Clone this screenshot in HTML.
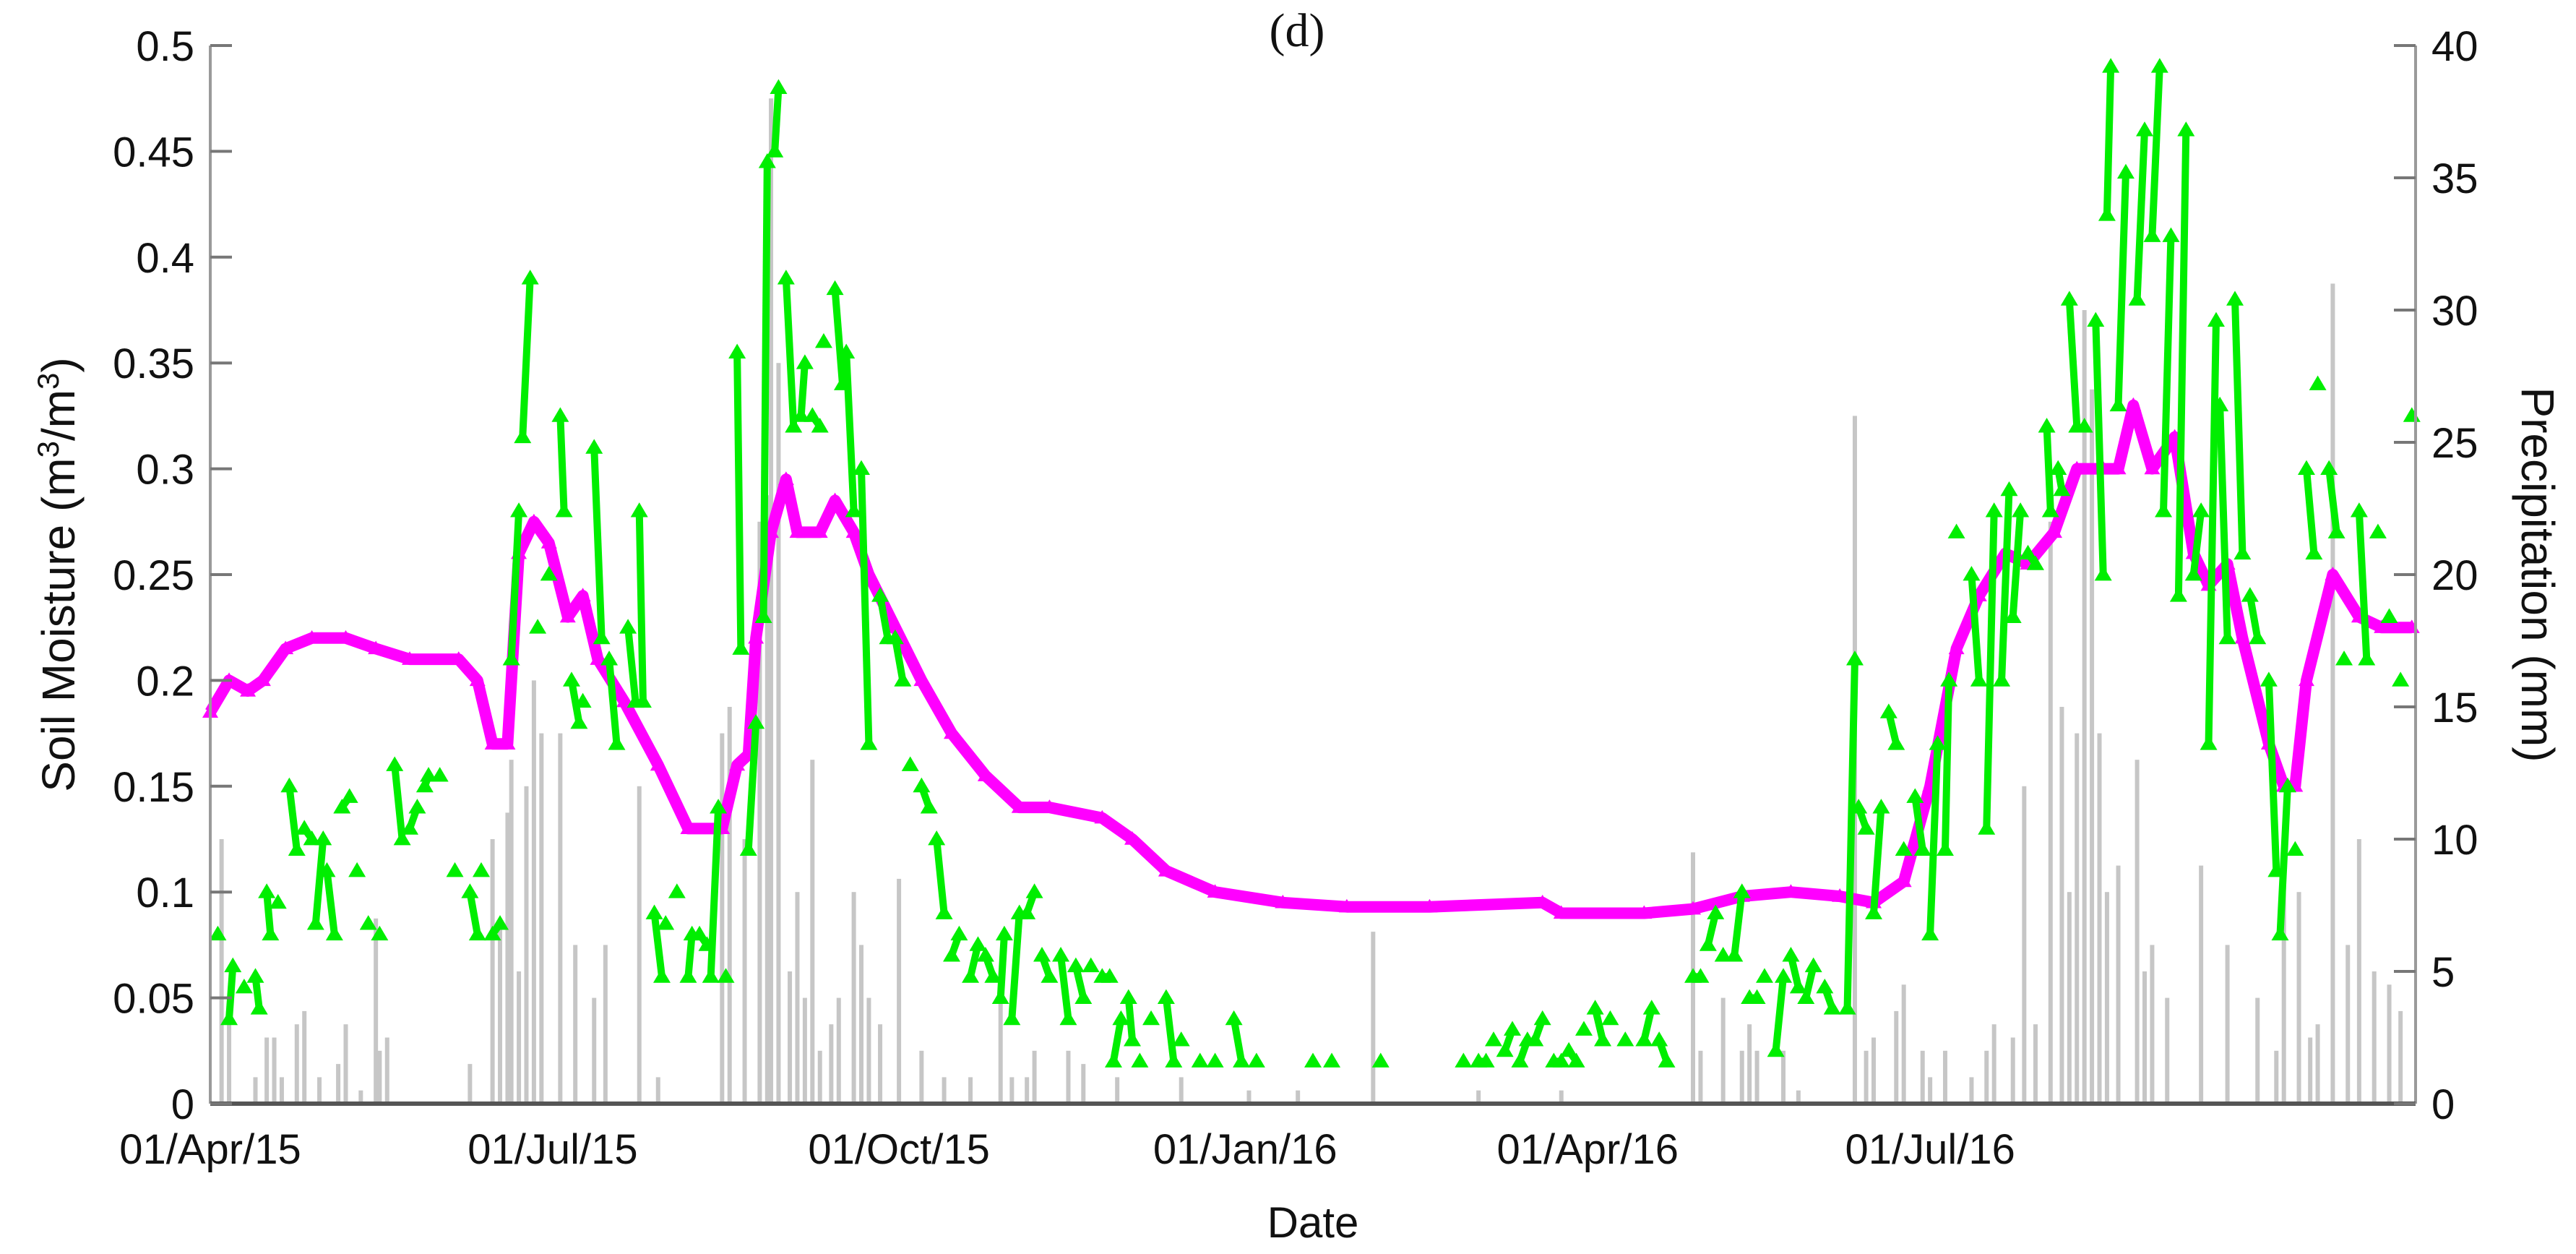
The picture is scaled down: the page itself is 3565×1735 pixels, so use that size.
<!DOCTYPE html>
<html><head><meta charset="utf-8"><style>
html,body{margin:0;padding:0;background:#fff}
svg{display:block}
text{font-family:"Liberation Sans",Arial,sans-serif;fill:#111}
</style></head><body>
<svg id="chart" width="3565" height="1735" viewBox="0 0 3565 1735" xmlns="http://www.w3.org/2000/svg">
<g id="precip"></g>
<g id="mag"></g>
<g id="grn"></g>
<g id="axes"></g>
<text x="1795" y="64" text-anchor="middle" style="font-family:'Liberation Serif',serif;font-size:66px">(d)</text>
<text x="1817" y="1712" text-anchor="middle" font-size="60">Date</text>
<text transform="translate(103,795) rotate(-90)" text-anchor="middle" font-size="64" fill="#333">Soil Moisture (m<tspan dy="-22" font-size="42">3</tspan><tspan dy="22">/m</tspan><tspan dy="-22" font-size="42">3</tspan><tspan dy="22">)</tspan></text>
<text transform="translate(3490,795) rotate(90)" text-anchor="middle" font-size="64">Precipitation (mm)</text>
</svg>
<script>
const magDays=[0,5,10,14,20,27,36,44,53,66,71,75,79,82,86,90,95,99,103,110,119,127,136,140,143,145,149,153,156,162,166,171,175,182,189,197,206,215,223,237,245,254,267,285,302,324,354,359,381,394,407,420,433,442,450,457,464,470,477,483,490,496,503,507,511,516,522,527,531,536,540,547,551,554,557,564,571,577,585];
const magVals=[0.185,0.2,0.195,0.2,0.215,0.22,0.22,0.215,0.21,0.21,0.2,0.17,0.17,0.26,0.275,0.265,0.23,0.24,0.21,0.19,0.16,0.13,0.13,0.16,0.165,0.22,0.27,0.295,0.27,0.27,0.285,0.27,0.25,0.225,0.2,0.175,0.155,0.14,0.14,0.135,0.125,0.11,0.1,0.095,0.093,0.093,0.095,0.09,0.09,0.092,0.098,0.1,0.098,0.095,0.105,0.15,0.215,0.24,0.26,0.255,0.27,0.3,0.3,0.3,0.33,0.3,0.315,0.26,0.245,0.255,0.22,0.17,0.15,0.15,0.2,0.25,0.23,0.225,0.225];
const grnDays=[2,5,6,9,12,13,15,16,18,21,23,25,27,28,30,31,33,35,37,39,42,45,49,51,53,55,57,58,61,65,69,71,72,75,77,80,82,83,85,87,90,93,94,96,98,99,102,104,106,108,111,113,114,115,118,120,121,124,127,128,130,132,133,135,137,140,141,143,145,147,148,150,151,153,155,157,158,160,162,163,166,168,169,171,173,175,178,180,182,184,186,189,191,193,195,197,199,202,204,206,208,210,211,213,215,217,219,221,223,226,228,230,232,234,237,239,240,242,244,245,247,250,254,256,258,263,267,272,274,278,293,298,311,333,337,339,341,344,346,348,350,352,354,357,359,361,363,365,368,370,372,376,381,383,385,387,394,396,398,400,402,405,407,409,411,413,416,418,420,422,424,426,429,431,435,437,438,440,442,444,446,448,450,453,455,457,459,461,462,464,468,470,472,474,476,478,479,481,483,485,488,489,491,492,494,496,498,501,503,504,505,507,509,512,514,516,518,519,521,523,525,527,529,531,533,534,536,538,540,542,544,547,549,550,552,554,557,559,560,563,565,567,571,573,576,579,582,585];
const grnVals=[0.08,0.04,0.065,0.055,0.06,0.045,0.1,0.08,0.095,0.15,0.12,0.13,0.125,0.085,0.125,0.11,0.08,0.14,0.145,0.11,0.085,0.08,0.16,0.125,0.13,0.14,0.15,0.155,0.155,0.11,0.1,0.08,0.11,0.08,0.085,0.21,0.28,0.315,0.39,0.225,0.25,0.325,0.28,0.2,0.18,0.19,0.31,0.22,0.21,0.17,0.225,0.19,0.28,0.19,0.09,0.06,0.085,0.1,0.06,0.08,0.08,0.075,0.06,0.14,0.06,0.355,0.215,0.12,0.18,0.23,0.445,0.45,0.48,0.39,0.32,0.325,0.35,0.325,0.32,0.36,0.385,0.34,0.355,0.28,0.3,0.17,0.24,0.22,0.22,0.2,0.16,0.15,0.14,0.125,0.09,0.07,0.08,0.06,0.075,0.07,0.06,0.05,0.08,0.04,0.09,0.09,0.1,0.07,0.06,0.07,0.04,0.065,0.05,0.065,0.06,0.06,0.02,0.04,0.05,0.03,0.02,0.04,0.05,0.02,0.03,0.02,0.02,0.04,0.02,0.02,0.02,0.02,0.02,0.02,0.02,0.02,0.03,0.025,0.035,0.02,0.03,0.03,0.04,0.02,0.02,0.025,0.02,0.035,0.045,0.03,0.04,0.03,0.03,0.045,0.03,0.02,0.06,0.06,0.075,0.09,0.07,0.07,0.1,0.05,0.05,0.06,0.025,0.06,0.07,0.055,0.05,0.065,0.055,0.045,0.045,0.21,0.14,0.13,0.09,0.14,0.185,0.17,0.12,0.145,0.12,0.08,0.17,0.12,0.2,0.27,0.25,0.2,0.13,0.28,0.2,0.29,0.23,0.28,0.26,0.255,0.32,0.28,0.3,0.29,0.38,0.32,0.32,0.37,0.25,0.42,0.49,0.33,0.44,0.38,0.46,0.41,0.49,0.28,0.41,0.24,0.46,0.25,0.28,0.17,0.37,0.33,0.22,0.38,0.26,0.24,0.22,0.2,0.11,0.08,0.15,0.12,0.3,0.26,0.34,0.3,0.27,0.21,0.28,0.21,0.27,0.23,0.2,0.325];
const prDays=[3,5,12,15,17,19,23,25,29,34,36,40,44,45,47,69,75,77,79,80,82,84,86,88,93,97,102,105,114,119,136,138,142,146,148,149,151,154,156,158,160,162,165,167,171,173,175,178,183,189,195,202,210,213,217,219,228,232,241,258,276,289,309,337,359,394,396,402,407,409,411,418,422,437,440,442,448,450,455,457,461,468,472,474,479,482,485,489,492,494,496,498,500,502,504,507,512,514,516,520,529,536,544,549,551,555,558,560,564,568,571,575,579,582];
const prVals=[10,3,1,2.5,2.5,1,3,3.5,1,1.5,3,0.5,7,2,2.5,1.5,10,7,11,13,5,12,16,14,14,6,4,6,12,1,14,15,10,22,23,38,28,5,8,4,13,2,3,4,8,6,4,3,8.5,2,1,1,4,1,1,2,2,1.5,1,1,0.5,0.5,6.5,0.5,0.5,9.5,2,4,2,3,2,2,0.5,26,2,2.5,3.5,4.5,2,1,2,1,2,3,2.5,12,3,22,15,8,14,30,27,14,8,9,13,5,6,4,9,6,4,2,10,8,2.5,3,31,6,10,5,4.5,3.5];
const smTicks=[0,0.05,0.1,0.15,0.2,0.25,0.3,0.35,0.4,0.45,0.5];
const smTickLabels=["0","0.05","0.1","0.15","0.2","0.25","0.3","0.35","0.4","0.45","0.5"];
const prTicks=[0,5,10,15,20,25,30,35,40];
const dateTicks=[0,91,183,275,366,457];
const dateTickLabels=["01/Apr/15","01/Jul/15","01/Oct/15","01/Jan/16","01/Apr/16","01/Jul/16"];

const L=291,R=3343,T=63,B=1527,DMAX=586;
const xs=d=>L+d*(R-L)/DMAX;
const ys=v=>B-v/0.5*(B-T);
const yp=v=>B-v/40*(B-T);
const NS="http://www.w3.org/2000/svg";
function mk(tag,parent,attrs){const e=document.createElementNS(NS,tag);for(const k in attrs)e.setAttribute(k,attrs[k]);parent.appendChild(e);return e;}

const gp=document.getElementById('precip');
prDays.forEach((d,i)=>{
  const r=mk('rect',gp,{x:xs(d)-3,y:yp(prVals[i]),width:6,height:B-yp(prVals[i]),fill:'#c6c6c6'});
  
  
});

const gm=document.getElementById('mag');
const mpts=magDays.map((d,i)=>xs(d).toFixed(1)+','+ys(magVals[i]).toFixed(1)).join(' ');
const ml=mk('polyline',gm,{points:mpts,fill:'none',stroke:'#ff00ff','stroke-width':16,'stroke-linejoin':'round'});


function tri(g,x,y,s,c){return mk('polygon',g,{points:`${x},${y-s} ${x-s},${y+s*0.7} ${x+s},${y+s*0.7}`,fill:c});}
magDays.forEach((d,i)=>{
  const t=tri(gm,xs(d),ys(magVals[i]),11,'#ff00ff');
  
  
});

const gg=document.getElementById('grn');
let skip=false;
for(let i=1;i<grnDays.length;i++){
  if(!skip && grnDays[i]-grnDays[i-1]<=2){
    const l=mk('line',gg,{x1:xs(grnDays[i-1]),y1:ys(grnVals[i-1]),x2:xs(grnDays[i]),y2:ys(grnVals[i]),stroke:'#00ee00','stroke-width':10});
    
    
    skip=true;
  } else skip=false;
}
grnDays.forEach((d,i)=>{
  const t=tri(gg,xs(d),ys(grnVals[i]),12,'#00ee00');
  
  
});

const ga=document.getElementById('axes');
let e;
e=mk('line',ga,{x1:L,y1:T,x2:L,y2:B,stroke:'#9a9a9a','stroke-width':4});

e=mk('line',ga,{x1:R,y1:T,x2:R,y2:B,stroke:'#9a9a9a','stroke-width':4});

e=mk('line',ga,{x1:L,y1:B,x2:R,y2:B,stroke:'#555','stroke-width':6});

smTicks.forEach((v,i)=>{
  const y=ys(v);
  e=mk('line',ga,{x1:L,y1:y,x2:L+30,y2:y,stroke:'#777','stroke-width':4});
  
  e=mk('text',ga,{x:L-22,y:y+21,'text-anchor':'end','font-size':58});
  e.textContent=smTickLabels[i];
  
});
prTicks.forEach(v=>{
  const y=yp(v);
  e=mk('line',ga,{x1:R-30,y1:y,x2:R,y2:y,stroke:'#777','stroke-width':4});
  
  e=mk('text',ga,{x:R+22,y:y+21,'text-anchor':'start','font-size':58});
  e.textContent=String(v);
  
});
dateTicks.forEach((d,i)=>{
  e=mk('text',ga,{x:xs(d),y:1610,'text-anchor':'middle','font-size':58});
  e.textContent=dateTickLabels[i];
  
});
</script>
</body></html>
